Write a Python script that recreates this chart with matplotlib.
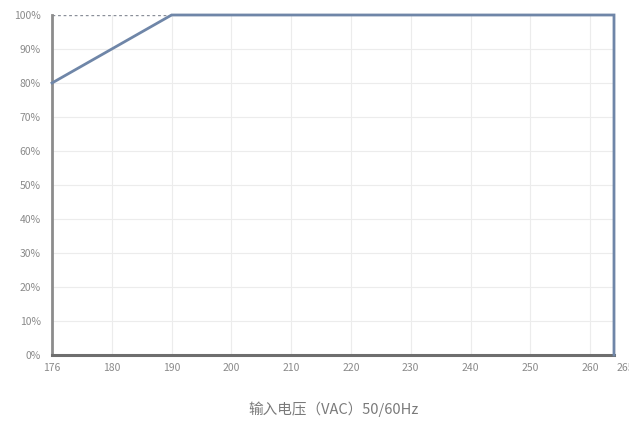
import numpy as np
import matplotlib
matplotlib.use("Agg")
import matplotlib.pyplot as plt

plt.rcParams['font.family'] = ['Noto Sans CJK SC', 'DejaVu Sans']

# Data
voltage = [176, 190, 264, 264]
load_pct = [80, 100, 100, 0]
x_ticks = [176, 180, 190, 200, 210, 220, 230, 240, 250, 260]
extra_tick = 265
y_ticks = [0, 10, 20, 30, 40, 50, 60, 70, 80, 90, 100]
xlabel = "输入电压（VAC）50/60Hz"

# piecewise axis: 176->180 takes one grid step, then 10 V per step
bp_v = [176, 180, 300]
bp_p = [0, 1, 13]

def fwd(v):
    return np.interp(v, bp_v, bp_p)

def inv(p):
    return np.interp(p, bp_p, bp_v)

fig = plt.figure(figsize=(6.29, 4.21), dpi=100)
ax = fig.add_axes([52/629, 1-355/421, (614-52)/629, (355-15)/421])
ax.set_xscale('function', functions=(fwd, inv))
ax.set_xlim(176, 264)
ax.set_ylim(0, 100)

# grid
for xv in x_ticks[1:]:
    ax.axvline(xv, color='#ececec', lw=0.8, zorder=0)
for yv in y_ticks[1:-1]:
    ax.axhline(yv, color='#ececec', lw=0.8, zorder=0)
ax.plot([176, 190], [100, 100], color='#8a8f99', lw=1.0, ls=(0, (2, 2)), zorder=1)

ax.plot(voltage, load_pct, color='#6f86a8', lw=2.0, zorder=3, clip_on=False,
        solid_joinstyle='miter')

for s in ['top', 'right']:
    ax.spines[s].set_visible(False)
ax.spines['left'].set_color('#8c8c8c')
ax.spines['left'].set_linewidth(2.0)
ax.spines['bottom'].set_color('#6e6e6e')
ax.spines['bottom'].set_linewidth(2.2)

ax.set_xticks(x_ticks)
ax.set_xticklabels([str(v) for v in x_ticks])
ax.set_yticks(y_ticks)
ax.set_yticklabels([f"{v}%" for v in y_ticks])
ax.tick_params(axis='both', length=0, labelsize=7.5, colors='#8a8a8a', pad=6)
ax.tick_params(axis='y', pad=8)
ax.annotate(str(extra_tick), xy=(extra_tick, 0), xycoords=('data', 'axes fraction'),
            xytext=(4, -6), textcoords='offset points', ha='center', va='top',
            fontsize=7.5, color='#8a8a8a', annotation_clip=False)

ax.set_xlabel(xlabel, fontsize=10.5, color='#7a7a7a', labelpad=20)

fig.savefig("out.png", dpi=100)
